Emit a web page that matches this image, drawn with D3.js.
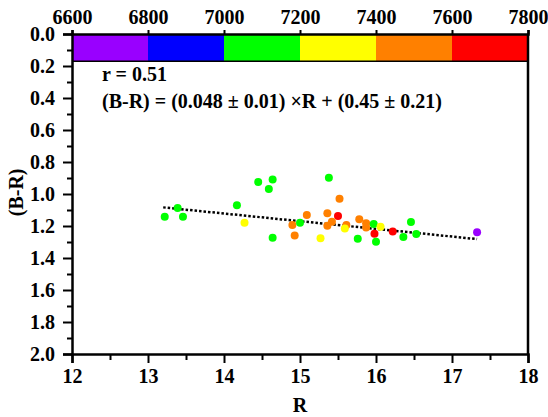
<!DOCTYPE html>
<html>
<head>
<meta charset="utf-8">
<script src="https://d3js.org/d3.v7.min.js"></script>
<style>
    body { margin: 0; background: #fff; }
</style>
</head>
<body>
<div id="chart"></div>
<script>
// R magnitude, (B-R) colour index and temperature bin (K) of each star
var rMag = [13.22, 13.39, 13.46, 14.45, 14.64, 14.59, 14.17, 14.27, 14.64, 15.09,
            14.90, 15.00, 14.93, 15.27, 15.38, 15.52, 15.36, 15.50, 15.42, 15.36,
            15.61, 15.59, 15.78, 15.87, 15.87, 15.97, 16.06, 15.98, 15.76, 16.00,
            16.22, 16.46, 16.36, 16.53, 17.33];
var brIdx = [1.142, 1.088, 1.142, 0.925, 0.910, 0.969, 1.071, 1.179, 1.273, 1.131,
             1.194, 1.179, 1.260, 1.277, 0.898, 1.029, 1.121, 1.138, 1.173, 1.198,
             1.194, 1.215, 1.158, 1.183, 1.210, 1.188, 1.204, 1.248, 1.279, 1.298,
             1.235, 1.175, 1.269, 1.250, 1.239];
var temp = [7100, 7100, 7100, 7100, 7100, 7100, 7100, 7300, 7100, 7500,
            7500, 7100, 7500, 7300, 7100, 7500, 7500, 7700, 7500, 7500,
            7500, 7300, 7500, 7500, 7500, 7100, 7300, 7700, 7100, 7100,
            7700, 7100, 7100, 7100, 6700];

// colour bar bins
var tempEdges = [6600, 6800, 7000, 7200, 7400, 7600, 7800];
var binColors = ["#9900ff", "#0000ff", "#00ff00", "#ffff00", "#ff8000", "#ff0000"];

// linear fit (B-R) = a*R + b
var fitA = 0.048, fitB = 0.45;
var fitRange = [13.2, 17.33];

var xTicks = [12, 13, 14, 15, 16, 17, 18];
var yTicks = [0.0, 0.2, 0.4, 0.6, 0.8, 1.0, 1.2, 1.4, 1.6, 1.8, 2.0];

var FONT = '"Liberation Serif"';

var width = 548, height = 417;
var margin = {top: 34, right: 20, bottom: 63, left: 72};
var w = width - margin.left - margin.right;
var h = height - margin.top - margin.bottom;

var svg = d3.select('#chart').append('svg')
    .attr('width', width)
    .attr('height', height);
var g = svg.append('g').attr('transform', 'translate(' + margin.left + ',' + margin.top + ')');

var x = d3.scaleLinear().domain([12, 18]).range([0, w]);
var y = d3.scaleLinear().domain([0, 2]).range([0, h]);
var xT = d3.scaleLinear().domain([6600, 7800]).range([0, w]);
var color = d3.scaleThreshold().domain(tempEdges.slice(1, -1)).range(binColors);

// colour bar
var barBottom = 0.17;
g.selectAll('rect.bin')
    .data(binColors)
    .enter()
    .append('rect')
    .attr('class', 'bin')
    .attr('x', (d, i) => xT(tempEdges[i]))
    .attr('y', 0)
    .attr('width', (d, i) => xT(tempEdges[i + 1]) - xT(tempEdges[i]))
    .attr('height', y(barBottom))
    .attr('fill', (d) => d);
g.append('line')
    .attr('x1', 0).attr('x2', w)
    .attr('y1', y(barBottom)).attr('y2', y(barBottom))
    .attr('stroke', '#000').attr('stroke-width', 1.5);

// minor ticks
g.append('g')
    .attr('class', 'minor')
    .call(d3.axisLeft(y).tickValues(d3.range(0.1, 2, 0.2)).tickSize(5).tickFormat(''));
g.append('g')
    .attr('class', 'minor')
    .attr('transform', 'translate(0,' + h + ')')
    .call(d3.axisBottom(x).tickValues(d3.range(12.5, 18, 1)).tickSize(6).tickFormat(''));

// major axes
g.append('g')
    .attr('class', 'axis')
    .call(d3.axisLeft(y).tickValues(yTicks).tickSize(9).tickPadding(8).tickFormat(d3.format('.1f')));
g.append('g')
    .attr('class', 'axis')
    .attr('transform', 'translate(0,' + h + ')')
    .call(d3.axisBottom(x).tickValues(xTicks).tickSize(9).tickPadding(6).tickFormat(d3.format('d')));
g.append('g')
    .attr('class', 'axis')
    .call(d3.axisTop(xT).tickValues(tempEdges).tickSize(4).tickPadding(6).tickFormat(d3.format('d')));

// right frame
g.append('line')
    .attr('x1', w).attr('x2', w)
    .attr('y1', 0).attr('y2', h)
    .attr('stroke', '#000').attr('stroke-width', 2.5);

g.selectAll('.axis path, .minor path').attr('stroke-width', 2.5);
g.selectAll('.axis line, .minor line').attr('stroke-width', 2);
g.selectAll('.minor path').remove();
g.selectAll('.axis, .minor').attr('font-family', null);
g.selectAll('.axis text')
    .style('font-family', FONT)
    .style('font-weight', 'bold')
    .style('font-size', '20px')
    .attr('fill', '#000');

// fit line
g.append('line')
    .attr('x1', x(fitRange[0])).attr('y1', y(fitA * fitRange[0] + fitB))
    .attr('x2', x(fitRange[1])).attr('y2', y(fitA * fitRange[1] + fitB))
    .attr('stroke', '#000')
    .attr('stroke-width', 2.5)
    .attr('stroke-dasharray', '2.5,2');

// points
g.selectAll('circle')
    .data(rMag)
    .enter()
    .append('circle')
    .attr('cx', (d) => x(d))
    .attr('cy', (d, i) => y(brIdx[i]))
    .attr('r', 4)
    .attr('fill', (d, i) => color(temp[i]));

// annotation
var note = g.append('g');
note.append('text')
    .attr('x', 30).attr('y', 47)
    .text('r = 0.51');
note.append('text')
    .attr('x', 30).attr('y', 74)
    .text('(B-R) = (0.048 \u00b1 0.01) \u00d7R + (0.45 \u00b1 0.21)');
note.selectAll('text')
    .style('font-family', FONT)
    .style('font-weight', 'bold')
    .style('font-size', '20px');

// axis titles
var titles = svg.append('g');
titles.append('text')
    .attr('x', margin.left + w / 2)
    .attr('y', 412)
    .attr('text-anchor', 'middle')
    .text('R');
titles.append('text')
    .attr('transform', 'translate(23,' + (margin.top + y(0.99)) + ') rotate(-90)')
    .attr('text-anchor', 'middle')
    .text('(B-R)');
titles.selectAll('text')
    .style('font-family', FONT)
    .style('font-weight', 'bold')
    .style('font-size', '20px');
</script>
</body>
</html>
